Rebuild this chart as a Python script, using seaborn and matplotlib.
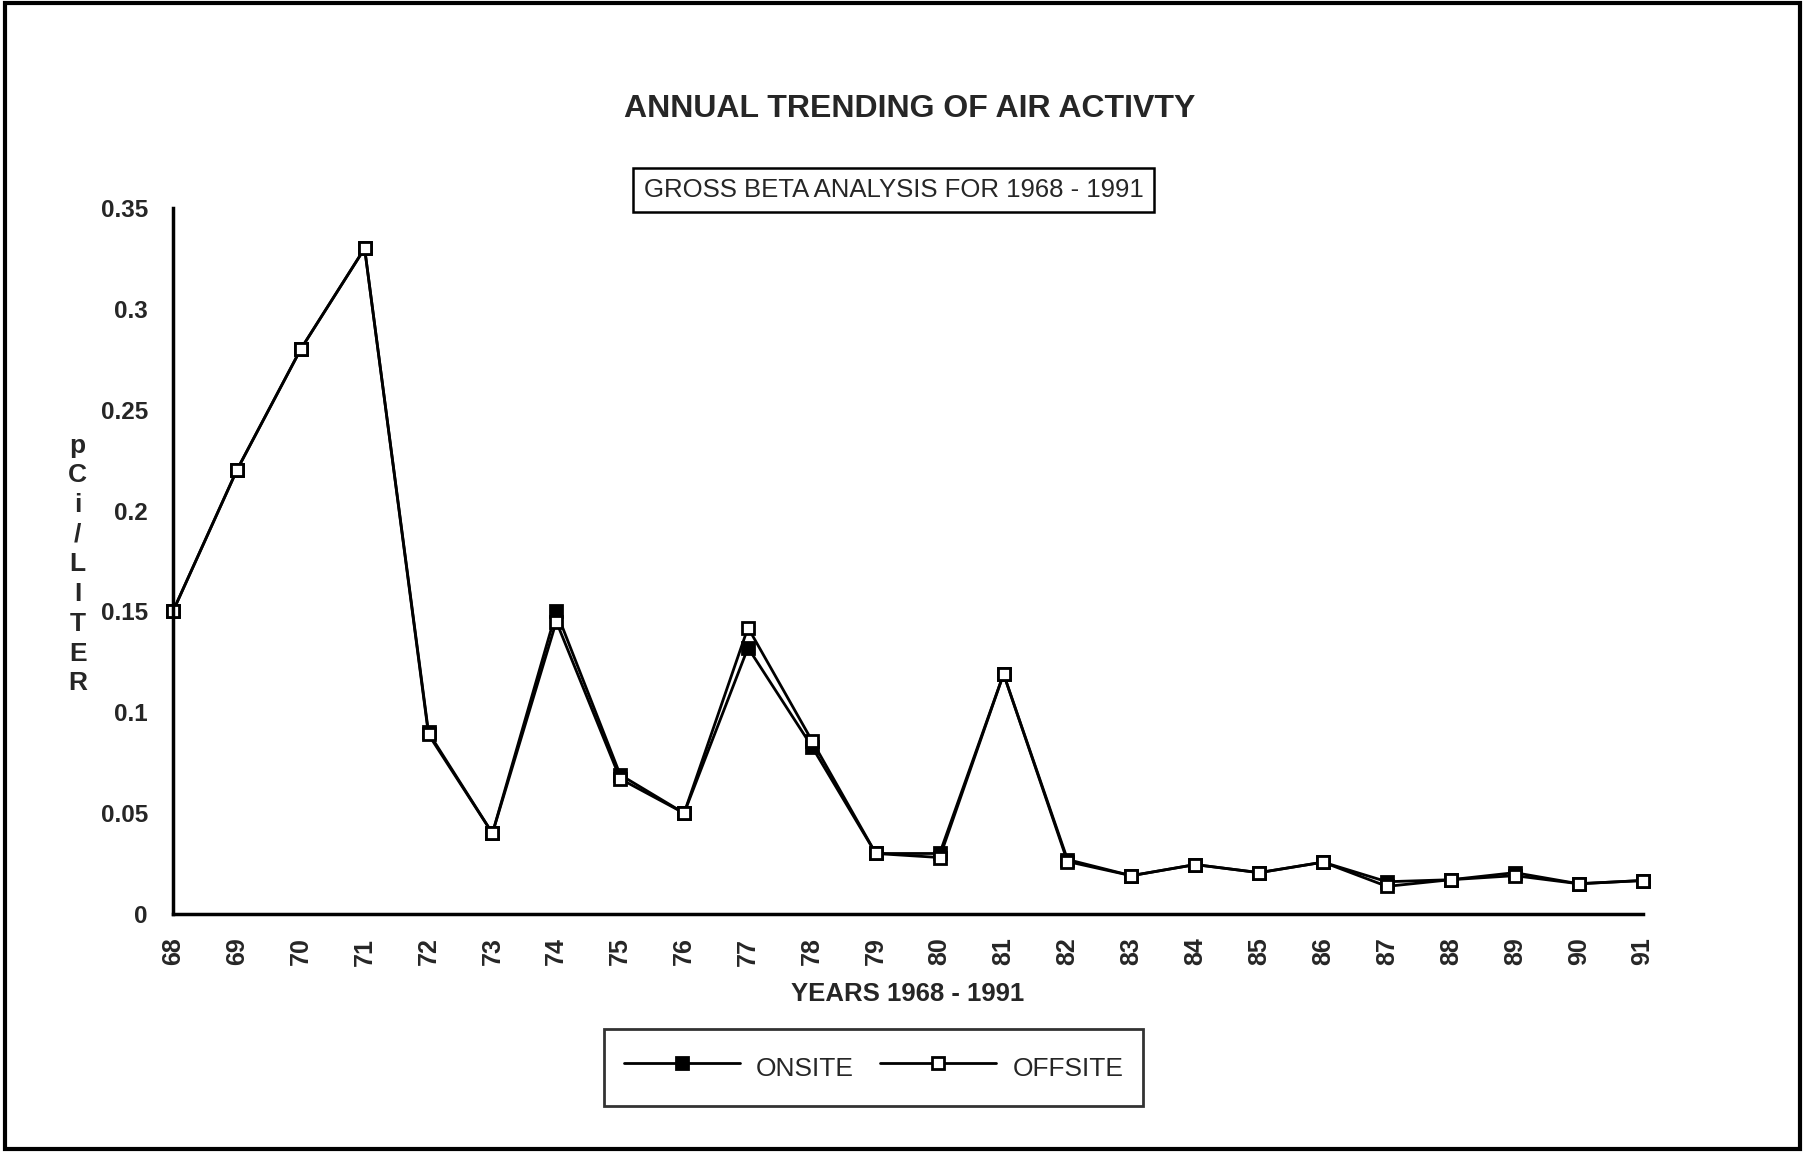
import pandas as pd
import seaborn as sns
import matplotlib.pyplot as plt
from matplotlib.patches import Rectangle

years = list(range(68, 92))
onsite = [0.150, 0.220, 0.280, 0.330, 0.090, 0.040, 0.150, 0.069, 0.050, 0.132,
          0.083, 0.030, 0.030, 0.119, 0.027, 0.019, 0.0245, 0.0205, 0.0257, 0.016,
          0.017, 0.0205, 0.015, 0.0166]
offsite = [0.150, 0.220, 0.280, 0.330, 0.089, 0.040, 0.145, 0.067, 0.050, 0.142,
           0.086, 0.030, 0.028, 0.119, 0.026, 0.019, 0.0245, 0.0205, 0.0257, 0.0137,
           0.017, 0.019, 0.015, 0.0166]
y_ticks = [0, 0.05, 0.1, 0.15, 0.2, 0.25, 0.3, 0.35]
y_tick_labels = ['0', '0.05', '0.1', '0.15', '0.2', '0.25', '0.3', '0.35']

df = pd.DataFrame({'year': years, 'ONSITE': onsite, 'OFFSITE': offsite})

sns.set_style('white')
plt.rcParams['font.family'] = ['Liberation Sans', 'DejaVu Sans']

fig = plt.figure(figsize=(18.05, 11.52), dpi=100)
ax = fig.add_axes([0.0958, 0.2066, 0.8142, 0.6128])

sns.lineplot(data=df, x='year', y='ONSITE', ax=ax, color='black', lw=2,
             marker='s', markersize=11, markerfacecolor='black',
             markeredgecolor='black', markeredgewidth=2, label='ONSITE')
sns.lineplot(data=df, x='year', y='OFFSITE', ax=ax, color='black', lw=2,
             marker='s', markersize=11, markerfacecolor='white',
             markeredgecolor='black', markeredgewidth=2, label='OFFSITE')

ax.set_xlim(68, 91)
ax.set_ylim(0, 0.35)
ax.set_xticks(years)
ax.set_xticklabels([str(y) for y in years], rotation=90, fontsize=18, fontweight='bold')
ax.set_yticks(y_ticks)
ax.set_yticklabels(y_tick_labels, fontsize=17.5, fontweight='bold')
ax.tick_params(axis='both', direction='inout', length=18, width=2, color='black')
ax.tick_params(axis='y', pad=9)
ax.tick_params(axis='x', pad=8)
ax.set_xlabel('')
ax.set_ylabel('')
for side in ['top', 'right']:
    ax.spines[side].set_visible(False)
for side in ['left', 'bottom']:
    ax.spines[side].set_color('black')
    ax.spines[side].set_linewidth(2.5)
ax.get_legend().remove()
for m in ax.lines:
    m.set_clip_on(False)

fig.text(0.504, 0.905, 'ANNUAL TRENDING OF AIR ACTIVTY', ha='center', va='center',
         fontsize=23, fontweight='bold')
fig.text(0.495, 0.835, 'GROSS BETA ANALYSIS FOR 1968 - 1991', ha='center', va='center',
         fontsize=18.5,
         bbox=dict(boxstyle='square,pad=0.4', facecolor='white', edgecolor='black', lw=1.8))
fig.text(0.043, 0.51, 'p\nC\ni\n/\nL\nI\nT\nE\nR', ha='center', va='center',
         fontsize=19, fontweight='bold', linespacing=1.3)
fig.text(0.503, 0.137, 'YEARS 1968 - 1991', ha='center', va='center',
         fontsize=18.5, fontweight='bold')

handles, labels = ax.get_legend_handles_labels()
for h in handles:
    h.set_markersize(9)
leg = fig.legend(handles, labels, loc='center', bbox_to_anchor=(0.484, 0.073), ncol=2,
                 fontsize=19, frameon=True, fancybox=False, edgecolor='black',
                 handlelength=4.4, handleheight=1.8, columnspacing=1.0,
                 borderpad=0.75, handletextpad=0.6)
leg.get_frame().set_linewidth(2)

fig.patches.append(Rectangle((0.003, 0.003), 0.994, 0.994, transform=fig.transFigure,
                             fill=False, edgecolor='black', lw=3))

fig.savefig('out.png', dpi=100, facecolor='white')
